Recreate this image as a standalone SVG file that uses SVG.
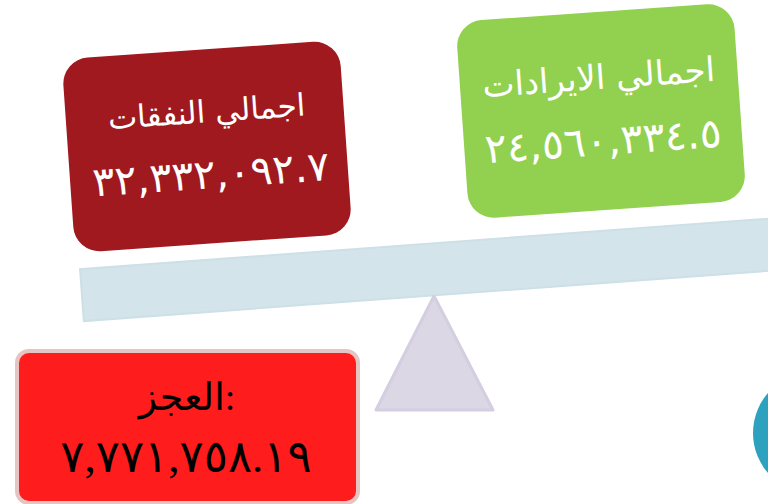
<svg xmlns="http://www.w3.org/2000/svg" width="768" height="504" viewBox="0 0 768 504">
<style>
.w{fill:#ffffff;font-family:"DejaVu Sans","Noto Sans",sans-serif;text-anchor:middle}
.k{fill:#000000;font-family:"Liberation Serif","DejaVu Serif","DejaVu Sans",serif;text-anchor:middle}
</style>
<rect width="768" height="504" fill="#ffffff"/>
<g id="beam">
<rect x="-357" y="-26" width="760" height="52" fill="#d4e4eb" stroke="#cddfe7" stroke-width="2" transform="translate(438,269) rotate(-4.2)"/>
</g>
<g id="fulcrum">
<polygon points="434,296 376,410 493,410" fill="#dcd7e5" stroke="#d3cee0" stroke-width="3" stroke-linejoin="round"/>
</g>
<g id="expenses" transform="translate(207,146.5) rotate(-4)">
<rect x="-139" y="-97" width="278" height="194" rx="26" fill="#a0191f"/>
<text class="w" x="2" y="-24" font-size="31" direction="rtl">اجمالي النفقات</text>
<text class="w" x="2" y="42" font-size="41">٣٢,٣٣٢,٠٩٢.٧</text>
</g>
<g id="revenue" transform="translate(601,111) rotate(-4)">
<rect x="-139" y="-99" width="278" height="198" rx="26" fill="#92d050"/>
<text class="w" x="0" y="-22" font-size="34" direction="rtl">اجمالي الايرادات</text>
<text class="w" x="0" y="44" font-size="41">٢٤,٥٦٠,٣٣٤.٥</text>
</g>
<g id="deficit">
<rect x="17" y="351" width="341" height="152" rx="12" fill="#ff1c1c" stroke="#e5c4c4" stroke-width="4"/>
<text class="k" x="187" y="410" font-size="38">العجز:</text>
<text class="k" x="186" y="472" font-size="45">٧,٧٧١,٧٥٨.١٩</text>
</g>
<g id="circle">
<circle cx="814" cy="433" r="61" fill="#2da2bf"/>
</g>
</svg>
